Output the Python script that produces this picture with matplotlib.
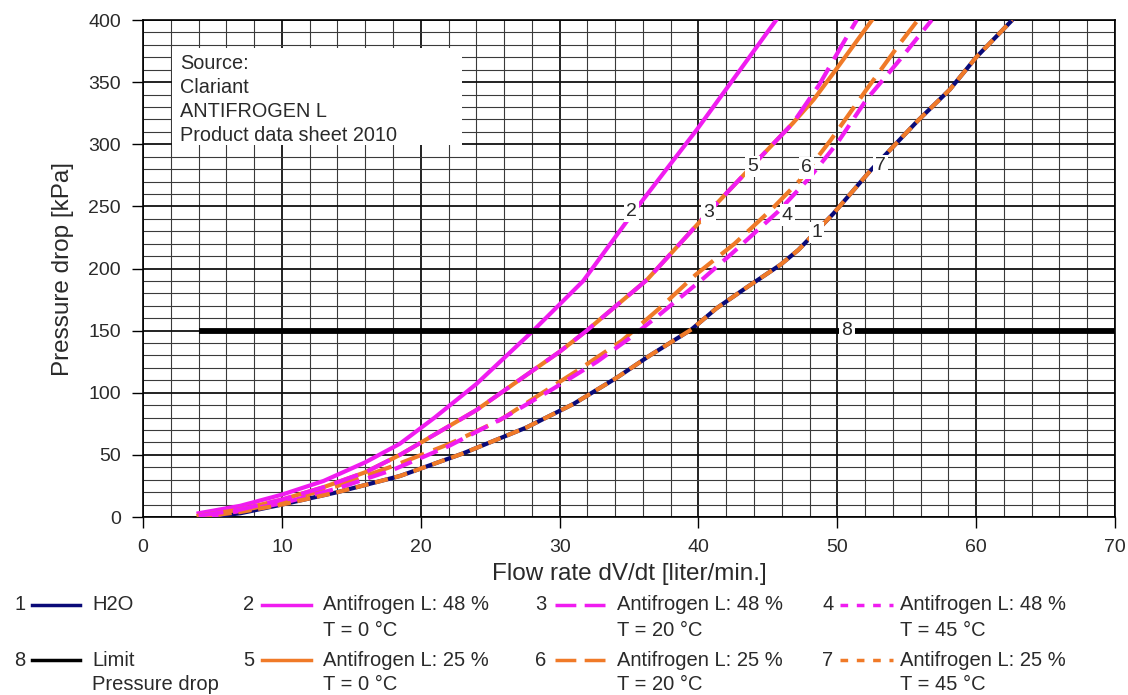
import numpy as np
import matplotlib
matplotlib.use("Agg")
import matplotlib.pyplot as plt
from matplotlib.lines import Line2D
from matplotlib.patches import Rectangle

plt.rcParams['font.family'] = ['Liberation Sans', 'DejaVu Sans']

# Kurven (Durchfluss l/min, Druckverlust kPa)
x1 = [4.8, 7, 10, 14, 18.5, 23, 27.6, 31, 34.1, 36.5, 39.5, 41.3, 43.5, 45.9, 47.2, 49.7, 52.4, 55.8, 58.1, 60, 62.6]
y1 = [0, 3, 10, 20, 33, 51, 72, 91, 112, 130, 151, 168, 185, 203, 215, 244, 279, 319, 344, 370, 400]
x7 = [4, 7, 10, 14, 18.5, 23, 27.6, 31, 34.1, 36.5, 39.5, 41.3, 43.5, 45.9, 47.2, 49.7, 52.4, 55.8, 58.1, 60, 62.6]
y7 = [0, 4, 10, 20, 33, 51, 72, 91, 112, 130, 151, 168, 185, 203, 215, 244, 279, 319, 344, 370, 400]
x2 = [4, 7, 10, 13, 16, 18.5, 21, 24, 28.1, 31.7, 35.3, 39.9, 45.6]
y2 = [3, 9, 18, 29, 44, 59, 80, 107, 150, 190, 245, 312, 400]
x3 = [4, 7, 10, 13, 16, 18.5, 24, 30, 31.95, 36.3, 40.7, 44.5, 46.8, 48.7, 50.4, 51.4]
y3 = [1, 6, 14, 24, 36, 50, 86, 133, 150, 191, 245, 290, 317, 348, 381, 400]
x5 = [4, 7, 10, 13, 16, 18.5, 24, 30, 31.95, 36.3, 40.7, 44.5, 46.8, 48.3, 49.7, 52.5]
y5 = [1, 6, 14, 24, 36, 50, 86, 133, 150, 191, 245, 290, 317, 336, 357, 400]
x4 = [4.5, 7, 10, 14, 18, 22, 26, 29.5, 32.7, 35.3, 37.1, 40.35, 42.4, 45.75, 48, 50, 52.1, 54.5, 56.8]
y4 = [0, 5, 11, 23, 38, 57, 80, 103, 125, 146, 162, 192, 212, 246, 273, 301, 336, 368, 400]
x6 = [4, 7, 10, 14, 18, 22.1, 25.7, 28.35, 31.3, 34.5, 37.2, 39.8, 42.6, 45.3, 47.3, 49.5, 52.1, 54.5, 55.8]
y6 = [0, 5, 12, 25, 41, 59, 78, 97, 118, 142, 168, 195, 220, 248, 271, 303, 344, 381, 400]
x8 = [4, 70]
y8 = [150, 150]

# Beschriftung auf den Kurven
lab_txt = ['2', '3', '5', '6', '4', '1', '7', '8']
lab_x = [35.2, 40.7, 43.9, 47.8, 46.4, 48.5, 53.1, 50.7]
lab_y = [246, 245, 282, 281, 243, 229, 283, 150]

src_lines = ['Source:', 'Clariant', 'ANTIFROGEN L', 'Product data sheet 2010']

leg_num = ['1', '2', '3', '4', '8', '5', '6', '7']
leg_txt = ['H2O', 'Antifrogen L: 48 %\nT = 0 °C', 'Antifrogen L: 48 %\nT = 20 °C',
           'Antifrogen L: 48 %\nT = 45 °C', 'Limit\nPressure drop',
           'Antifrogen L: 25 %\nT = 0 °C', 'Antifrogen L: 25 %\nT = 20 °C',
           'Antifrogen L: 25 %\nT = 45 °C']

MAG = '#f01cf0'
ORA = '#f07a28'
NAV = '#0a0a78'
TXT = '#2a2a2a'
lw = 3
long_d = (6, 2.4)
med_d = (4.5, 2.2)
short_d = (3.2, 1.6)

fig = plt.figure(figsize=(11.28, 6.95), dpi=100)
ax = fig.add_axes([0.1268, 0.2561, 0.8617, 0.7151])

ax.plot(x1, y1, color=NAV, lw=lw, zorder=3)
ax.plot(x7, y7, color=ORA, lw=lw, dashes=short_d, zorder=4)
ax.plot(x2, y2, color=MAG, lw=lw, zorder=3)
ax.plot(x5, y5, color=ORA, lw=lw, zorder=3)
ax.plot(x3, y3, color=MAG, lw=lw, dashes=long_d, zorder=4)
ax.plot(x6, y6, color=ORA, lw=lw, dashes=long_d, zorder=3)
ax.plot(x4, y4, color=MAG, lw=lw, dashes=med_d, zorder=3)
ax.plot(x8, y8, color='black', lw=4.2, zorder=3, solid_capstyle='butt')

for t, xx, yy in zip(lab_txt, lab_x, lab_y):
    ax.text(xx, yy, t, ha='center', va='center', fontsize=14, color=TXT, zorder=6,
            bbox=dict(fc='white', ec='none', pad=1.5))

ax.set_xlim(0, 70)
ax.set_ylim(0, 400)
ax.set_xticks(np.arange(0, 71, 10))
ax.set_yticks(np.arange(0, 401, 50))
ax.set_xticks(np.arange(0, 71, 2), minor=True)
ax.set_yticks(np.arange(0, 401, 10), minor=True)
ax.grid(which='major', color='#111111', lw=1.3)
ax.grid(which='minor', color='#3a3a3a', lw=0.8)
ax.set_axisbelow(True)
ax.tick_params(which='major', direction='out', length=8, width=1, labelsize=14,
               labelcolor=TXT, pad=8)
ax.tick_params(which='minor', length=0)
for s in ax.spines.values():
    s.set_linewidth(1.2)

ax.set_xlabel('Flow rate dV/dt [liter/min.]', fontsize=17.5, labelpad=5, color=TXT)
ax.set_ylabel('Pressure drop [kPa]', fontsize=17.5, labelpad=10, color=TXT)

# Quellenbox
ax.add_patch(Rectangle((0.030, 0.748), 0.298, 0.196, transform=ax.transAxes,
                       fc='white', ec='none', zorder=2))
for k, s in enumerate(src_lines):
    ax.text(37 / 972, 1 - (43 + 24 * k) / 497, s, transform=ax.transAxes, va='center',
            ha='left', fontsize=14.3, color=TXT, zorder=5)

# Legende unten
leg_col = [(20, 32, 80, 92), (249, 262, 311, 323), (541, 555, 605, 617), (828, 840, 893, 900)]
leg_row = [605, 660]
leg_sty = [dict(color=NAV), dict(color=MAG), dict(color=MAG, dashes=long_d),
           dict(color=MAG, dashes=(2.2, 2.5)), dict(color='black'), dict(color=ORA),
           dict(color=ORA, dashes=long_d), dict(color=ORA, dashes=(2.2, 2.5))]
W, H = 1128, 695
for i in range(8):
    cx = leg_col[i % 4]
    py = leg_row[i // 4]
    fy = 1 - py / H
    fig.text(cx[0] / W, fy, leg_num[i], ha='center', va='center', fontsize=14.5, color=TXT)
    fig.add_artist(Line2D([cx[1] / W, cx[2] / W], [fy, fy], transform=fig.transFigure,
                          lw=2.5, **leg_sty[i]))
    for k, s in enumerate(leg_txt[i].split('\n')):
        fig.text(cx[3] / W, 1 - (py + 25 * k) / H, s, ha='left', va='center',
                 fontsize=14.5, color=TXT)

fig.savefig('out.png', dpi=100)
